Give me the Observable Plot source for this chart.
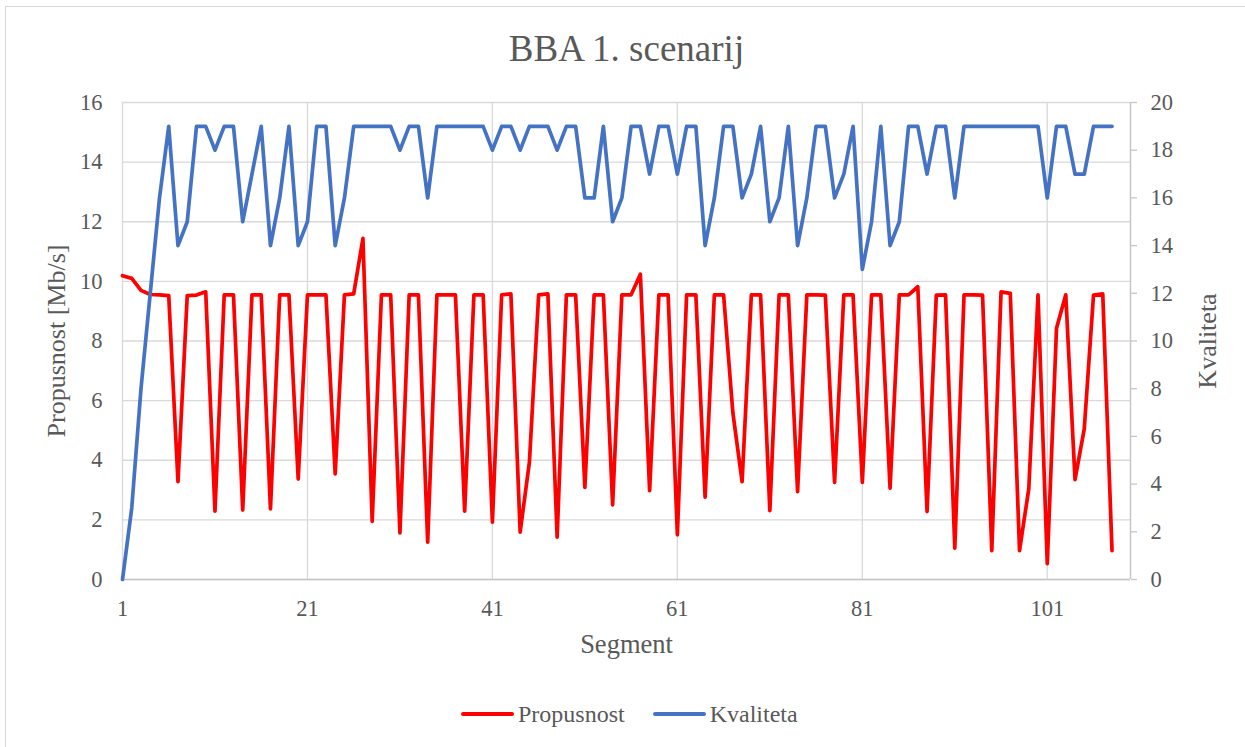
<!DOCTYPE html>
<html>
<head>
<meta charset="utf-8">
<script src="https://cdn.jsdelivr.net/npm/d3@7"></script>
<script src="https://cdn.jsdelivr.net/npm/@observablehq/plot@0.6"></script>
<style>
  body { margin: 0; background: #fff; }
  #wrap { position: relative; width: 1245px; height: 747px; overflow: hidden; background: #fff;
          font-family: "Liberation Serif", "Tinos", "Times New Roman", "DejaVu Serif", serif; }
  #frame { position: absolute; left: 5px; top: 6px; width: 1270px; height: 770px;
           border: 1.3px solid #d9d9d9; box-sizing: border-box; pointer-events: none; }
  #legend { position: absolute; left: 461px; top: 697px; height: 34px;
            display: flex; justify-content: flex-start; align-items: center; gap: 28px;
            font-size: 24px; color: #595959; }
  .item { display: flex; align-items: center; gap: 4px; }
  .sw { width: 53px; height: 3.8px; border-radius: 2px; }
  #chart svg, #chart svg text { font-family: "Liberation Serif", "Tinos", "Times New Roman", "DejaVu Serif", serif !important; }
</style>
</head>
<body>
<div id="wrap">
  <div id="chart"></div>
  <div id="legend"></div>
  <div id="frame"></div>
</div>
<script>
// ---- text ----
const title = "BBA 1. scenarij";
const xLabel = "Segment";
const yLabelLeft = "Propusnost [Mb/s]";
const yLabelRight = "Kvaliteta";
const seriesNames = ["Propusnost", "Kvaliteta"];
const seriesColors = ["#ff0000", "#4472c4"];

// ---- ticks / domains ----
const xDomain = [1, 110];
const xTicks = [1, 21, 41, 61, 81, 101];
const leftDomain = [0, 16];
const leftTicks = [0, 2, 4, 6, 8, 10, 12, 14, 16];
const rightDomain = [0, 20];
const rightTicks = [0, 2, 4, 6, 8, 10, 12, 14, 16, 18, 20];

// ---- data (segment = index + 1) ----
const propusnost = [
  10.19, 10.10, 9.70, 9.56, 9.55, 9.52, 3.28, 9.52, 9.54, 9.65,
  2.29, 9.55, 9.55, 2.33, 9.55, 9.55, 2.37, 9.55, 9.55, 3.37,
  9.55, 9.55, 9.55, 3.54, 9.55, 9.58, 11.44, 1.95, 9.55, 9.55,
  1.56, 9.55, 9.55, 1.25, 9.55, 9.55, 9.55, 2.29, 9.55, 9.55,
  1.92, 9.55, 9.58, 1.59, 3.93, 9.55, 9.58, 1.42, 9.55, 9.55,
  3.09, 9.55, 9.55, 2.50, 9.55, 9.55, 10.24, 2.98, 9.55, 9.55,
  1.50, 9.55, 9.55, 2.76, 9.55, 9.55, 5.60, 3.28, 9.55, 9.55,
  2.31, 9.55, 9.55, 2.95, 9.55, 9.55, 9.54, 3.26, 9.55, 9.55,
  3.26, 9.55, 9.55, 3.06, 9.55, 9.55, 9.82, 2.28, 9.54, 9.55,
  1.05, 9.55, 9.55, 9.54, 0.97, 9.65, 9.60, 0.97, 3.04, 9.55,
  0.53, 8.43, 9.55, 3.35, 5.05, 9.54, 9.58, 0.97
];
const kvaliteta = [
  0, 3, 8, 12, 16, 19, 14, 15, 19, 19,
  18, 19, 19, 15, 17, 19, 14, 16, 19, 14,
  15, 19, 19, 14, 16, 19, 19, 19, 19, 19,
  18, 19, 19, 16, 19, 19, 19, 19, 19, 19,
  18, 19, 19, 18, 19, 19, 19, 18, 19, 19,
  16, 16, 19, 15, 16, 19, 19, 17, 19, 19,
  17, 19, 19, 14, 16, 19, 19, 16, 17, 19,
  15, 16, 19, 14, 16, 19, 19, 16, 17, 19,
  13, 15, 19, 14, 15, 19, 19, 17, 19, 19,
  16, 19, 19, 19, 19, 19, 19, 19, 19, 19,
  16, 19, 19, 17, 17, 19, 19, 19
];

// right axis mapped onto the left scale
const ratio = leftDomain[1] / rightDomain[1];

const textColor = "#595959";
const gridColor = "#d9d9d9";
const axisColor = "#c6c6c6";
const font = '"Liberation Serif", "Tinos", "Times New Roman", "DejaVu Serif", serif';

const chart = Plot.plot({
  width: 1245,
  height: 747,
  marginLeft: 122,
  marginRight: 115,
  marginTop: 102,
  marginBottom: 168,
  style: { fontFamily: font, color: textColor, background: "transparent" },
  x: { domain: xDomain, label: null },
  y: { domain: leftDomain, label: null },
  marks: [
    Plot.gridY(leftTicks, { stroke: gridColor, strokeOpacity: 1, strokeWidth: 1.3 }),
    Plot.gridX(xTicks, { stroke: gridColor, strokeOpacity: 1, strokeWidth: 1.3 }),
    Plot.ruleY([leftDomain[0]], { stroke: axisColor, strokeWidth: 1.5 }),
    Plot.ruleX([xDomain[1]], { stroke: axisColor, strokeWidth: 1.5 }),
    Plot.axisY(leftTicks, { anchor: "left", tickSize: 0, tickPadding: 20, fontSize: 22.5, fill: textColor, label: null }),
    Plot.axisY(rightTicks.map(v => v * ratio), {
      anchor: "right", tickSize: 6, tickPadding: 14, stroke: axisColor, strokeWidth: 1.3,
      fill: textColor, fontSize: 22.5, label: null,
      tickFormat: d => String(Math.round(d / ratio))
    }),
    Plot.axisX(xTicks, { anchor: "bottom", tickSize: 0, tickPadding: 21, fontSize: 22.5, fill: textColor, label: null }),
    Plot.lineY(propusnost, {
      x: (d, i) => i + 1, y: d => d,
      stroke: seriesColors[0], strokeWidth: 3.7, strokeLinejoin: "round", strokeLinecap: "round"
    }),
    Plot.lineY(kvaliteta, {
      x: (d, i) => i + 1, y: d => d * ratio,
      stroke: seriesColors[1], strokeWidth: 3.7, strokeLinejoin: "round", strokeLinecap: "round"
    }),
    Plot.text([title], { frameAnchor: "top", lineAnchor: "middle", dy: -53, fontSize: 37, fill: textColor }),
    Plot.text([xLabel], { frameAnchor: "bottom", lineAnchor: "middle", dy: 65, fontSize: 26.5, fill: textColor }),
    Plot.text([yLabelLeft], { frameAnchor: "left", textAnchor: "middle", lineAnchor: "middle", dx: -66, rotate: -90, fontSize: 26, fill: textColor }),
    Plot.text([yLabelRight], { frameAnchor: "right", textAnchor: "middle", lineAnchor: "middle", dx: 77, rotate: -90, fontSize: 26, fill: textColor })
  ]
});
document.getElementById("chart").appendChild(chart);

// legend
const legend = document.getElementById("legend");
seriesNames.forEach((name, i) => {
  const item = document.createElement("div");
  item.className = "item";
  const sw = document.createElement("div");
  sw.className = "sw";
  sw.style.background = seriesColors[i];
  const lab = document.createElement("span");
  lab.textContent = name;
  item.appendChild(sw);
  item.appendChild(lab);
  legend.appendChild(item);
});
</script>
</body>
</html>
